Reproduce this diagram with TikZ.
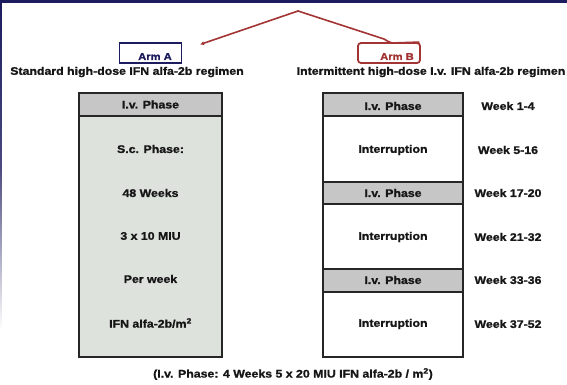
\documentclass[tikz,border=0pt]{standalone}
\usepackage{fontspec}
\newfontfamily\hd[FakeStretch=1.12,FakeBold=1.3]{Liberation Sans Bold}
\usetikzlibrary{arrows.meta}
\definecolor{navy}{HTML}{1C1C5E}
\definecolor{armred}{HTML}{A33434}
\definecolor{hdrgrey}{HTML}{C6C6C6}
\definecolor{bodygrey}{HTML}{DDE2DD}
\definecolor{txt}{HTML}{161616}
\begin{document}
\begin{tikzpicture}[x=1pt,y=-1pt,
  lbl/.style={font=\hd\fontsize{11}{13}\selectfont, text=txt, inner sep=0pt},
  cell/.style={draw=black!85, line width=1.4pt, inner sep=0pt},
  hdrcell/.style={cell, fill=hdrgrey},
  whcell/.style={cell, fill=white},
  redline/.style={draw=armred, line width=1.6pt, line cap=round, line join=round}]
\useasboundingbox (0,0) rectangle (567,385);
\fill[white] (0,0) rectangle (567,385);
% frame decorations
\fill[navy] (0,0) rectangle (567,3.5);
\shade[top color=navy, bottom color=white, middle color=navy!80] (0,3) rectangle (1.6,330);

% arm boxes
\node[draw=navy, line width=1.8pt, minimum width=62pt, minimum height=20pt, inner sep=0pt] (armA) at (150.5,53) {};
\node[font=\hd\fontsize{10}{12}\selectfont, text=navy, inner sep=0pt, anchor=base] (armAt) at (155,60) {Arm A};
\node[draw=armred, line width=1.8pt, rounded corners=3pt, minimum width=62pt, minimum height=20pt, inner sep=0pt] (armB) at (389,53) {};
\node[font=\hd\fontsize{10}{12}\selectfont, text=armred, inner sep=0pt, anchor=base] (armBt) at (397,60) {Arm B};

% connectors
\coordinate (apex) at (298,11);
\coordinate (tipA) at (200,44.5);
\coordinate (joinB) at (392,43);
\draw[redline, -{Latex[length=4pt,width=4pt]}] (apex) -- (tipA);
\draw[redline] (apex) -- (384,39) to[out=-15,in=180] (joinB) -- ([xshift=-2pt]armB.north east);

% headings
\node[lbl] (hA) at (127,72) {Standard high-dose IFN alfa-2b regimen};
\node[lbl] (hB) at (431,72) {Intermittent high-dose I.v. IFN alfa-2b regimen};

% left column
\node[cell, fill=bodygrey, minimum width=143pt, minimum height=241pt] (bodyA) at (150.5,236.5) {};
\node[hdrcell, minimum width=143pt, minimum height=23pt] (hdrA) at (150.5,104.5) {};
\node[lbl] at (hdrA) {I.v. Phase};
\node[lbl] (a1) at (150.5,149) {S.c. Phase:};
\node[lbl] (a2) at (150.5,193) {48 Weeks};
\node[lbl] (a3) at (150.5,236) {3 x 10 MIU};
\node[lbl] (a4) at (150.5,279) {Per week};
\node[lbl] (a5) at (150.5,323) {IFN alfa-2b/m\textsuperscript{2}};

% right column
\node[hdrcell, minimum width=140pt, minimum height=23pt] (b1) at (393,104.5) {};
\node[whcell, minimum width=140pt, minimum height=66pt] (b2) at (393,149) {};
\node[hdrcell, minimum width=140pt, minimum height=22pt] (b3) at (393,193) {};
\node[whcell, minimum width=140pt, minimum height=65pt] (b4) at (393,236.5) {};
\node[hdrcell, minimum width=140pt, minimum height=23pt] (b5) at (393,280.5) {};
\node[whcell, minimum width=140pt, minimum height=65pt] (b6) at (393,324.5) {};
\node[lbl] at (393,106) {I.v. Phase};
\node[lbl] at (393,150) {Interruption};
\node[lbl] at (393,193) {I.v. Phase};
\node[lbl] at (393,237) {Interruption};
\node[lbl] at (393,280) {I.v. Phase};
\node[lbl] at (393,324) {Interruption};

% week labels
\node[lbl] (w1) at (508,106) {Week 1-4};
\node[lbl] (w2) at (508,150) {Week 5-16};
\node[lbl] (w3) at (508,193) {Week 17-20};
\node[lbl] (w4) at (508,237) {Week 21-32};
\node[lbl] (w5) at (508,280) {Week 33-36};
\node[lbl] (w6) at (508,324) {Week 37-52};

% footnote
\node[lbl] (foot) at (293,374) {(I.v. Phase: 4 Weeks 5 x 20 MIU IFN alfa-2b / m\textsuperscript{2})};
\end{tikzpicture}
\end{document}
